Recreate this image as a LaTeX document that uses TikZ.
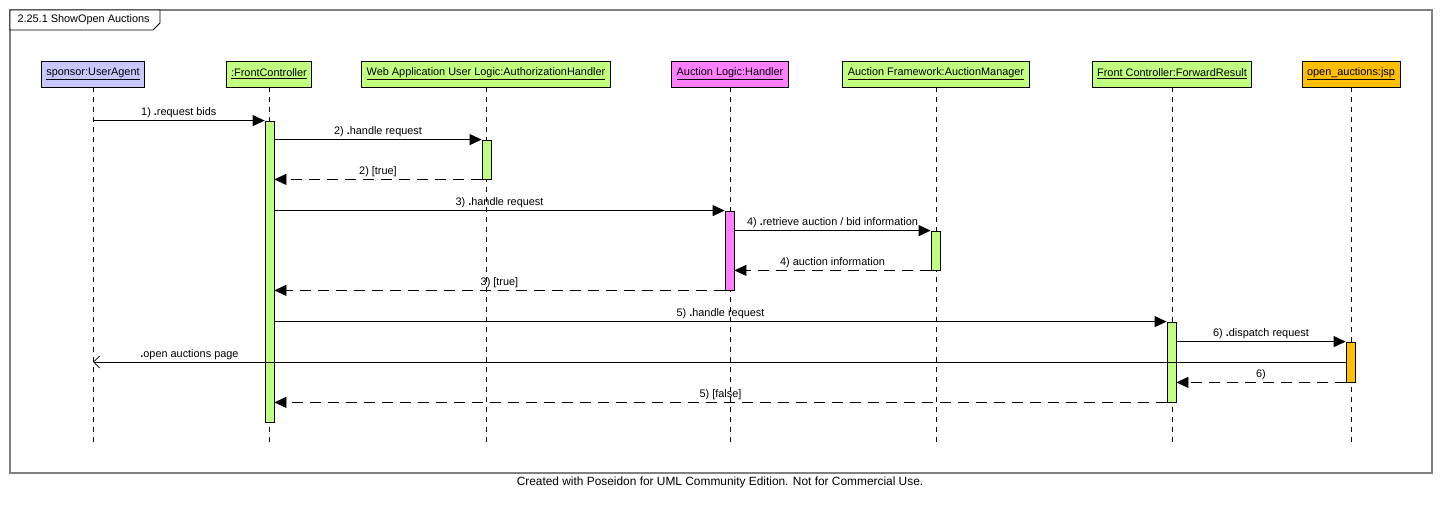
\documentclass[tikz,border=0pt]{standalone}
\usepackage{fontspec}
\setmainfont{Liberation Sans}
\usetikzlibrary{arrows.meta}
\definecolor{userblue}{RGB}{200,200,255}
\definecolor{objgreen}{RGB}{192,255,128}
\definecolor{logicpink}{RGB}{255,128,255}
\definecolor{jsporange}{RGB}{255,190,0}
\definecolor{framegray}{RGB}{128,128,128}
\begin{document}
\begin{tikzpicture}[x=1pt, y=-1pt,
    every node/.style={font=\fontsize{10.9}{13}\selectfont},
    head/.style={draw, line width=0.8pt, minimum height=26pt, inner xsep=5pt},
    bar/.style={draw, line width=0.8pt, minimum width=9pt, inner sep=0pt},
    life/.style={dash pattern=on 5pt off 5pt, line width=0.8pt},
    call/.style={-{Triangle[length=12pt,width=11pt]}, line width=0.8pt},
    ret/.style={-{Triangle[length=12pt,width=11pt]}, dash pattern=on 11pt off 7pt, line width=0.8pt},
    reply/.style={-{Straight Barb[length=6pt,width=12pt]}, line width=0.8pt},
    lbl/.style={above, inner sep=2pt}]
            \useasboundingbox (0,0) rectangle (1441,505);
            \draw[framegray, line width=1.2pt] (10,10) rectangle (1432,473);
            \draw[line width=0.8pt, fill=white] (10,10) -- (160,10) -- (160,23) -- (153,30) -- (10,30) -- cycle;
            \node[anchor=west] (title) at (14,20) {2.25.1 ShowOpen Auctions};
            % heads
            \node[head, fill=userblue] (ua) at (93,74) {\underline{sponsor:UserAgent}};
            \node[head, fill=objgreen] (fc) at (269,74) {\underline{:FrontController}};
            \node[head, fill=objgreen] (ah) at (486,74) {\underline{Web Application User Logic:AuthorizationHandler}};
            \node[head, fill=logicpink] (lh) at (730,74) {\underline{Auction Logic:Handler}};
            \node[head, fill=objgreen] (am) at (936,74) {\underline{Auction Framework:AuctionManager}};
            \node[head, fill=objgreen] (fr) at (1172,74) {\underline{Front Controller:ForwardResult}};
            \node[head, fill=jsporange] (jsp) at (1351,74) {\underline{open\_auctions:jsp}};
            \coordinate (lifeend) at (0,443);
            \foreach \n in {ua,fc,ah,lh,am,fr,jsp}
                \draw[life] (\n.south) -- (\n.south |- lifeend);
            % activations
            \node[bar, fill=objgreen, minimum height=301pt] (fcbar) at (269.5,271.5) {};
            \node[bar, fill=objgreen, minimum height=39pt] (ahbar) at (486.5,159.5) {};
            \node[bar, fill=logicpink, minimum height=79pt] (lhbar) at (729.5,250.5) {};
            \node[bar, fill=objgreen, minimum height=39pt] (ambar) at (935.5,250.5) {};
            \node[bar, fill=objgreen, minimum height=80pt] (frbar) at (1171.5,362) {};
            \node[bar, fill=jsporange, minimum height=40pt] (jspbar) at (1350.5,362) {};
            % messages
            \draw[call] (ua.south |- fcbar.north) -- node[lbl] {1) \textbf{.}request bids} (fcbar.north west);
            \draw[call] (fcbar.east |- ahbar.north) -- node[lbl] {2) \textbf{.}handle request} (ahbar.north west);
            \draw[ret] (ahbar.south west) -- node[lbl] {2) [true]} (fcbar.east |- ahbar.south);
            \draw[call] (fcbar.east |- lhbar.north) -- node[lbl] {3) \textbf{.}handle request} (lhbar.north west);
            \draw[call] (lhbar.east |- ambar.north) -- node[lbl] {4) \textbf{.}retrieve auction / bid information} (ambar.north west);
            \draw[ret] (ambar.south west) -- node[lbl] {4) auction information} (lhbar.east |- ambar.south);
            \draw[ret] (lhbar.south west) -- node[lbl] {3) [true]} (fcbar.east |- lhbar.south);
            \draw[call] (fcbar.east |- frbar.north) -- node[lbl] {5) \textbf{.}handle request} (frbar.north west);
            \draw[call] (frbar.east |- jspbar.north) -- node[lbl] {6) \textbf{.}dispatch request} (jspbar.north west);
            \draw[reply] (jspbar.west) -- node[lbl, pos=0.923] {\textbf{.}open auctions page} (ua.south |- jspbar.west);
            \draw[ret] (jspbar.south west) -- node[lbl] {6)} (frbar.east |- jspbar.south);
            \draw[ret] (frbar.south west) -- node[lbl] {5) [false]} (fcbar.east |- frbar.south);
            \node[font=\fontsize{11.9}{14}\selectfont] (footer) at (720,482) {Created with Poseidon for UML Community Edition. Not for Commercial Use.};
        \end{tikzpicture}
\end{document}
